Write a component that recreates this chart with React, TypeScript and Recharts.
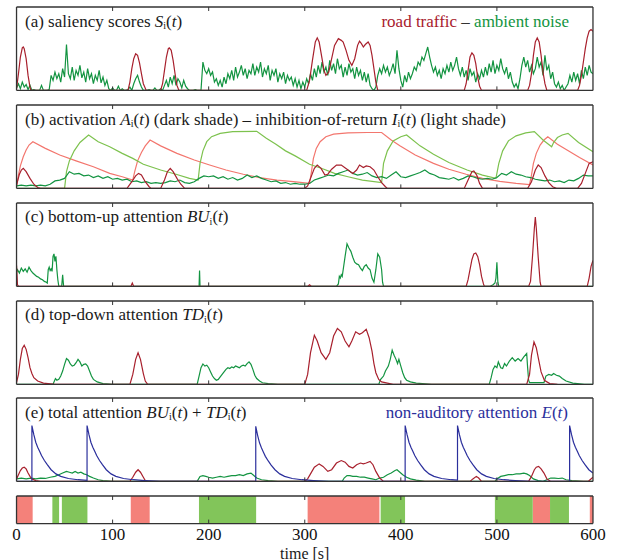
import React from "react";
import { LineChart, Line, XAxis, YAxis, ReferenceArea } from "recharts";

// values are fractions of a panel's height, time in seconds
const TIME_TICKS = [0, 100, 200, 300, 400, 500, 600];
const INNER_TICKS = [100, 200, 300, 400, 500];

// (a) saliency, road traffic  [t, v]
const roadSaliency = [
  [0, 0.02], [2, 0.2], [4, 0.4], [6, 0.51], [7, 0.52], [8, 0.5], [10, 0.38], [12, 0.18], [14, 0.04], [15, 0],
  [116, 0], [118, 0.1], [120, 0.26], [122, 0.38], [124, 0.44], [126, 0.42], [128, 0.33], [130, 0.2], [132, 0.08], [135, 0],
  [150, 0], [152, 0.08], [154, 0.24], [156, 0.4], [158, 0.5], [159, 0.51], [161, 0.48], [163, 0.36], [165, 0.2], [167, 0.06], [169, 0],
  [302, 0], [305, 0.12], [308, 0.36], [311, 0.58], [313, 0.63], [315, 0.58], [318, 0.38], [320, 0.24], [322, 0.18], [325, 0.22],
  [328, 0.38], [331, 0.54], [335, 0.62], [338, 0.6], [340, 0.58], [343, 0.48], [346, 0.36], [349, 0.3], [352, 0.38], [355, 0.54],
  [357, 0.59], [359, 0.56], [361, 0.52], [363, 0.55], [366, 0.58], [368, 0.54], [370, 0.42], [372, 0.26], [374, 0.1], [376, 0],
  [466, 0], [468, 0.08], [470, 0.24], [472, 0.4], [474, 0.45], [476, 0.42], [478, 0.32], [480, 0.16], [482, 0.05], [484, 0],
  [532, 0], [534, 0.06], [536, 0.2], [538, 0.42], [540, 0.58], [542, 0.63], [544, 0.58], [546, 0.42], [548, 0.22], [550, 0.08], [552, 0],
  [584, 0], [586, 0.06], [588, 0.18], [590, 0.34], [592, 0.5], [594, 0.63], [596, 0.71], [598, 0.73], [600, 0.71],
];

// (a) saliency, ambient noise, one value every 2 s (percent of panel height)
const NOISE_STEP = 2;
const noiseSaliency = [
  3, 8, 2, 10, 4, 7, 1, 6, 0, 1, 0, 0, 0, 6, 0, 0, 0, 1, 18, 12, 22, 14, 20, 10, 26,
  16, 55, 20, 14, 28, 12, 24, 18, 30, 15, 22, 10, 26, 14, 20, 8, 18, 12, 24, 9, 16, 6, 12, 2, 0,
  3, 0, 0, 5, 0, 2, 0, 0, 1, 4, 0, 8, 14, 18, 10, 4, 0, 0, 0, 1, 0, 0, 3, 0, 0,
  2, 0, 6, 12, 4, 16, 8, 18, 6, 14, 10, 3, 12, 5, 2, 0, 0, 0, 1, 0, 0, 0, 34, 24, 20,
  26, 18, 22, 10, 14, 6, 12, 4, 16, 8, 20, 14, 24, 12, 28, 16, 22, 30, 18, 26, 14, 24, 20, 32, 18,
  28, 22, 34, 16, 26, 20, 30, 12, 24, 18, 26, 10, 20, 14, 22, 8, 18, 12, 16, 6, 14, 4, 12, 2, 10,
  4, 14, 8, 20, 12, 26, 16, 30, 20, 34, 22, 28, 18, 36, 24, 32, 20, 38, 26, 30, 16, 28, 18, 32, 22,
  26, 14, 28, 18, 24, 12, 22, 10, 20, 6, 2, 0, 4, 18, 26, 20, 30, 22, 28, 18, 24, 32, 20, 48, 26,
  12, 4, 18, 10, 22, 14, 20, 28, 24, 34, 30, 40, 36, 44, 52, 40, 30, 22, 28, 18, 24, 14, 26, 20, 30,
  22, 34, 24, 30, 40, 26, 18, 28, 16, 24, 12, 26, 18, 22, 10, 20, 14, 24, 16, 28, 18, 32, 22, 36, 20,
  30, 24, 38, 26, 20, 28, 14, 22, 10, 4, 8, 2, 14, 30, 40, 28, 36, 22, 30, 20, 26, 40, 28, 34, 18,
  42, 24, 30, 14, 22, 8, 4, 10, 2, 6, 0, 4, 8, 18, 10, 22, 12, 20, 8, 24, 14, 28, 18, 30, 22, 20,
];

// (b) inhibition-of-return (light shades)
const roadInhibition = [
  [0, 0.02], [2, 0.16], [4, 0.27], [7, 0.38], [10, 0.46], [13, 0.52], [17, 0.56], [30, 0.48], [45, 0.4], [62, 0.33],
  [80, 0.26], [97, 0.18], [110, 0.14], [121, 0.1],
  [123, 0.2], [126, 0.33], [130, 0.43], [134, 0.51], [139, 0.58], [150, 0.51], [167, 0.42], [185, 0.34], [201, 0.28],
  [218, 0.22], [236, 0.17], [253, 0.13], [271, 0.1], [288, 0.08], [305, 0.06],
  [307, 0.2], [309, 0.36], [312, 0.48], [316, 0.56], [322, 0.62], [330, 0.65], [345, 0.665], [365, 0.67], [380, 0.67],
  [390, 0.58], [399, 0.51], [415, 0.4], [434, 0.3], [450, 0.23], [468, 0.17], [485, 0.12], [503, 0.085], [520, 0.06], [534, 0.045],
  [536, 0.16], [538, 0.3], [541, 0.42], [545, 0.52], [549, 0.58], [553, 0.62], [563, 0.53], [573, 0.46], [586, 0.37], [600, 0.28],
];
const noiseInhibition = [
  [0, 0], [50, 0], [52, 0.2], [55, 0.33], [60, 0.45], [66, 0.55], [75, 0.64], [85, 0.56], [97, 0.5], [110, 0.42],
  [121, 0.36], [132, 0.29], [150, 0.22], [166, 0.17], [180, 0.12], [189, 0.1],
  [191, 0.3], [194, 0.45], [198, 0.56], [203, 0.62], [212, 0.66], [225, 0.68], [250, 0.685], [260, 0.6], [270, 0.53],
  [280, 0.45], [290, 0.39], [305, 0.29], [320, 0.23], [331, 0.18], [345, 0.14], [360, 0.1], [380, 0.07],
  [382, 0.3], [386, 0.45], [392, 0.57], [400, 0.62], [406, 0.64], [420, 0.51], [434, 0.41], [450, 0.31], [469, 0.22],
  [485, 0.16], [499, 0.12],
  [502, 0.3], [506, 0.45], [512, 0.57], [520, 0.63], [530, 0.665], [539, 0.68], [548, 0.58], [557, 0.5], [559, 0.55],
  [563, 0.61], [568, 0.64], [574, 0.66], [585, 0.55], [600, 0.44],
];

// (b) activation (dark shades)
const roadActivation = [
  [0, 0.04], [3, 0.17], [5, 0.22], [7, 0.24], [10, 0.2], [14, 0.12], [18, 0.05], [22, 0.01], [25, 0],
  [115, 0], [120, 0.08], [124, 0.15], [127, 0.18], [130, 0.16], [134, 0.08], [138, 0.02], [140, 0],
  [150, 0], [154, 0.1], [157, 0.2], [160, 0.24], [163, 0.2], [167, 0.12], [171, 0.05], [175, 0],
  [300, 0], [303, 0.03], [307, 0.15], [310, 0.24], [313, 0.28], [317, 0.24], [321, 0.16], [324, 0.17], [328, 0.23], [333, 0.28],
  [338, 0.28], [344, 0.23], [350, 0.18], [354, 0.22], [357, 0.28], [361, 0.25], [364, 0.27], [368, 0.26], [372, 0.22],
  [376, 0.14], [380, 0.07], [384, 0.02], [386, 0],
  [466, 0], [470, 0.1], [474, 0.2], [476, 0.21], [479, 0.16], [482, 0.06], [485, 0],
  [532, 0], [536, 0.08], [540, 0.22], [543, 0.28], [546, 0.25], [550, 0.15], [554, 0.07], [558, 0.02], [562, 0],
  [584, 0], [588, 0.06], [592, 0.18], [596, 0.3], [600, 0.32],
];
// one value every 5 s (percent)
const ACT_STEP = 5;
const noiseActivation = [
  3, 4, 3, 4, 3, 4, 3, 5, 9, 10,
  12, 20, 17, 18, 15, 16, 13, 15, 12, 14,
  11, 12, 10, 11, 8, 9, 7, 8, 6, 7,
  6, 7, 9, 8, 10, 7, 6, 8, 12, 15,
  14, 15, 12, 14, 11, 13, 10, 12, 16, 13,
  15, 12, 10, 8, 9, 6, 7, 5, 6, 5,
  5,
  6, 10, 12, 14, 16, 15, 18, 20, 22, 18,
  16, 17, 19, 15, 13, 14, 12, 16, 20, 14,
  13, 15, 17, 19, 22, 18, 16, 13, 12, 11,
  13, 10, 12, 15, 14, 12, 11, 12, 11, 13,
  18, 16, 20, 17, 16, 14, 13, 11, 10, 9,
  10, 8, 9, 7, 10, 9, 12, 16, 15, 15,
];

// (c) bottom-up attention
const roadBottomUp = [
  [0, 0.25], [1, 0.02], [2, 0], [119, 0], [120.5, 0.04], [122, 0], [303, 0], [305, 0.02], [307, 0],
  [468, 0], [470, 0.08], [472, 0.2], [474, 0.32], [476, 0.39], [478, 0.4], [480, 0.36], [482, 0.26], [484, 0.12], [486, 0.03], [487, 0],
  [533, 0], [535, 0.06], [537, 0.35], [539, 0.7], [540, 0.83], [541, 0.7], [543, 0.35], [545, 0.05], [546, 0],
  [594, 0], [596, 0.1], [598, 0.24], [600, 0.31],
];
const noiseBottomUp = [
  [0, 0.17], [1, 0.2], [3, 0.16], [5, 0.22], [7, 0.18], [9, 0.21], [11, 0.17], [13, 0.23], [15, 0.19], [17, 0.16],
  [19, 0.14], [21, 0.12], [23, 0.11], [25, 0.09], [27, 0.08], [29, 0.06], [31, 0.05], [32, 0.04], [33, 0.2], [34, 0.23],
  [35, 0.19], [36, 0.21], [37, 0.18], [38, 0.36], [39, 0.39], [40, 0.3], [41, 0.36], [42, 0.2], [43, 0.08], [44, 0],
  [47, 0], [48, 0.14], [49, 0],
  [190, 0], [190.5, 0.19], [191, 0],
  [333, 0], [335, 0.03], [336, 0.12], [337, 0.1], [338, 0.14], [339, 0.12], [340, 0.2], [342, 0.36], [344, 0.51], [346, 0.46],
  [348, 0.42], [350, 0.35], [352, 0.29], [354, 0.27], [356, 0.26], [358, 0.22], [360, 0.19], [362, 0.24], [364, 0.26],
  [366, 0.22], [368, 0.2], [370, 0.1], [372, 0.05], [374, 0.2], [376, 0.39], [378, 0.35], [380, 0.2], [381, 0.05], [382, 0],
  [493, 0], [496, 0.02], [498, 0.04], [499, 0.1], [500, 0.29], [501, 0.05], [502, 0], [600, 0],
];

// (d) top-down attention
const roadTopDown = [
  [0, 0.02], [2, 0.12], [4, 0.3], [6, 0.43], [8, 0.47], [10, 0.42], [12, 0.32], [14, 0.2], [16, 0.13], [18, 0.08],
  [22, 0.04], [28, 0.015], [40, 0],
  [118, 0], [121, 0.12], [124, 0.3], [126.5, 0.38], [129, 0.3], [132, 0.13], [134, 0.04], [136.5, 0],
  [300, 0], [303, 0.12], [306, 0.38], [310, 0.59], [313, 0.52], [317, 0.38], [322, 0.3], [326, 0.38], [330, 0.58], [334, 0.67],
  [338, 0.63], [342, 0.52], [346, 0.45], [349, 0.52], [353, 0.63], [357, 0.6], [360, 0.62], [364, 0.66], [367, 0.56],
  [370, 0.4], [372, 0.25], [374, 0.14], [377, 0.06], [380, 0.03], [392, 0],
  [531, 0], [534, 0.12], [536, 0.35], [538.6, 0.51], [541, 0.44], [543.4, 0.3], [546, 0.15], [549.4, 0.05], [555, 0.01], [563, 0],
];
const noiseTopDown = [
  [0, 0], [38, 0], [39, 0.03], [40.5, 0.07], [42, 0.05], [44, 0.06], [46, 0.1], [48, 0.16], [50, 0.24], [52, 0.31],
  [54, 0.29], [56, 0.245], [58, 0.22], [60, 0.23], [62, 0.26], [64, 0.3], [66, 0.27], [68, 0.22], [70, 0.24], [72, 0.245],
  [74, 0.22], [76, 0.16], [78, 0.1], [80, 0.06], [84, 0.03], [90, 0.01], [100, 0],
  [188, 0], [190, 0.1], [192, 0.2], [194, 0.245], [196, 0.22], [198, 0.23], [200, 0.2], [202, 0.15], [204, 0.1], [206, 0.07],
  [208, 0.05], [210, 0.06], [212, 0.09], [214, 0.12], [216, 0.15], [218, 0.18], [220, 0.2], [222, 0.19], [224, 0.21],
  [226, 0.2], [228, 0.22], [230, 0.21], [232, 0.2], [234, 0.22], [236, 0.23], [238, 0.22], [240, 0.25], [242, 0.27],
  [244, 0.24], [246, 0.18], [248, 0.11], [250, 0.07], [253, 0.04], [256, 0.02], [262, 0.01], [272, 0],
  [377, 0], [379, 0.06], [382, 0.1], [384, 0.16], [387, 0.22], [389, 0.3], [391, 0.41], [393, 0.35], [395, 0.3], [396.6, 0.25],
  [398, 0.3], [400, 0.22], [402, 0.14], [404, 0.08], [406, 0.05], [410, 0.03], [416, 0.015], [432, 0],
  [492, 0], [494, 0.08], [496, 0.18], [498, 0.22], [500, 0.2], [501.5, 0.27], [504, 0.2], [506, 0.19], [508, 0.25],
  [510, 0.22], [513, 0.28], [516, 0.32], [519, 0.28], [522, 0.31], [525, 0.28], [528, 0.33], [531, 0.37], [532, 0.2],
  [533, 0.05], [534, 0.02], [549, 0.02], [551, 0.1], [554, 0.12], [557, 0.11], [559, 0.13], [562, 0.11], [565, 0.1],
  [568, 0.07], [572, 0.04], [579, 0.015], [591, 0], [600, 0],
];

// (e) total attention and non-auditory attention
const roadTotal = [
  [0, 0.03], [2, 0.08], [4, 0.13], [6, 0.16], [8, 0.17], [10, 0.15], [12, 0.1], [14, 0.06], [16, 0.03], [20, 0.01], [25, 0],
  [118, 0], [121, 0.05], [124, 0.11], [126.5, 0.14], [129, 0.11], [132, 0.05], [134, 0.01], [136.5, 0],
  [300, 0], [303, 0.03], [306, 0.09], [310, 0.17], [315, 0.21], [319, 0.18], [324, 0.12], [328, 0.14], [333, 0.22],
  [338, 0.25], [342, 0.23], [346, 0.18], [350, 0.16], [354, 0.2], [358, 0.22], [361, 0.21], [364, 0.22], [368, 0.24],
  [371, 0.2], [374, 0.12], [378, 0.04], [382, 0],
  [472, 0], [475, 0.03], [478.6, 0.06], [481, 0.04], [484, 0],
  [533, 0], [536, 0.06], [539, 0.14], [541, 0.17], [543.4, 0.18], [546, 0.15], [549, 0.1], [552, 0.03], [556, 0],
  [595, 0], [597, 0.02], [600, 0.05],
];
const noiseTotal = [
  [0, 0.03], [5, 0.04], [10, 0.03], [15, 0.04], [20, 0.03], [25, 0.04], [30, 0.035], [35, 0.05], [40, 0.06], [44, 0.08],
  [48, 0.1], [52, 0.12], [55, 0.11], [58, 0.1], [61, 0.12], [64, 0.1], [67, 0.11], [70, 0.09], [73, 0.08], [76, 0.06],
  [80, 0.04], [85, 0.02], [90, 0.01], [100, 0],
  [188, 0], [191, 0.06], [194, 0.07], [197, 0.06], [200, 0.05], [204, 0.04], [208, 0.05], [212, 0.06], [216, 0.05],
  [220, 0.06], [224, 0.07], [228, 0.07], [232, 0.08], [236, 0.07], [240, 0.09], [244, 0.1], [247, 0.07], [250, 0.04],
  [255, 0.02], [262, 0.01], [272, 0],
  [339, 0], [341, 0.04], [344, 0.07], [347, 0.07], [350, 0.06], [354, 0.06], [358, 0.05], [362, 0.05], [366, 0.04],
  [370, 0.03], [374, 0.02], [378, 0.04], [382, 0.05], [386, 0.08], [390, 0.1], [394, 0.13], [396, 0.14], [399, 0.11],
  [402, 0.08], [406, 0.05], [410, 0.03], [416, 0.015], [425, 0],
  [498, 0], [500, 0.03], [504, 0.06], [508, 0.07], [512, 0.08], [516, 0.08], [520, 0.09], [524, 0.09], [528, 0.1],
  [531, 0.09], [534, 0.07], [538, 0.03], [543, 0.01], [548, 0], [552, 0.02], [556, 0.04], [560, 0.04], [564, 0.035],
  [568, 0.04], [572, 0.02], [578, 0.01], [590, 0], [600, 0],
];
const nonAuditory = [
  [0, 0], [16, 0], [16, 0.67], [18, 0.56], [20, 0.47], [22, 0.41], [24, 0.36], [26, 0.31], [29, 0.25], [32, 0.2],
  [36, 0.14], [41, 0.09], [46, 0.06], [54, 0.035], [64, 0.02], [73.4, 0.012],
  [73.4, 0.67], [75.4, 0.56], [77.4, 0.47], [79.4, 0.41], [81.4, 0.36], [83.4, 0.31], [86.4, 0.25], [89.4, 0.2],
  [93.4, 0.14], [98.4, 0.09], [103.4, 0.06], [111.4, 0.035], [121.4, 0.02], [133.4, 0.01], [150, 0],
  [249, 0], [249, 0.66], [251, 0.55], [253, 0.46], [255, 0.4], [257, 0.35], [259, 0.3], [262, 0.245], [265, 0.195],
  [269, 0.14], [274, 0.09], [279, 0.06], [287, 0.035], [297, 0.02], [309, 0.01], [325, 0],
  [404.5, 0], [404.5, 0.67], [406.5, 0.56], [408.5, 0.47], [410.5, 0.41], [412.5, 0.36], [414.5, 0.31], [417.5, 0.25],
  [420.5, 0.2], [424.5, 0.14], [429.5, 0.09], [434.5, 0.06], [442.5, 0.035], [452.5, 0.02], [459, 0.015],
  [459, 0.67], [461, 0.56], [463, 0.47], [465, 0.41], [467, 0.36], [469, 0.31], [472, 0.25], [475, 0.2], [479, 0.14],
  [484, 0.09], [489, 0.06], [497, 0.035], [507, 0.02], [519, 0.01], [535, 0],
  [575.7, 0], [575.7, 0.67], [577.7, 0.56], [579.7, 0.47], [581.7, 0.41], [583.7, 0.36], [585.7, 0.31], [588.7, 0.25],
  [591.7, 0.2], [595.7, 0.14], [600, 0.1],
];

// attended source over time [start, end]
const roadSegments = [[0, 16.8], [118.9, 138.6], [303, 377.7], [537.3, 555.3], [596.7, 600]];
const noiseSegments = [[37.3, 44.3], [47.2, 73.8], [189.9, 249.4], [379, 404.4], [497.9, 537.3], [555.3, 575]];

const DARK_RED = "#a8202d";
const GREEN = "#139441";
const LIGHT_RED = "#f3766e";
const LIGHT_GREEN = "#7dc24e";
const BLUE = "#2b2f9c";
const BAR_RED = "#f4817a";
const BAR_GREEN = "#82c55a";
const FRAME = "#333";
const FONT = "Liberation Serif, Times New Roman, DejaVu Serif, serif";

const W = 618;
const X_LEFT = 16.5;
const X_RIGHT = 593;
const PANEL_TOPS = [7.3, 105.1, 202.9, 300.7, 398.4];
const PANEL_H = 83.4;
const BAR_TOP = 495.7;
const BAR_H = 27.6;
const PAD = 3;

const pairs = (arr: number[][]) => arr.map(([t, v]) => ({ t, v }));
const stepped = (arr: number[], step: number) => arr.map((v, i) => ({ t: i * step, v: v / 100 }));

const tickDown = (p: any) => (
  <line x1={p.x} x2={p.x} y1={p.y} y2={p.y + 4} stroke={FRAME} strokeWidth={1} />
);
const tickUp = (p: any) => (
  <line x1={p.x} x2={p.x} y1={p.y} y2={p.y - 4} stroke={FRAME} strokeWidth={1} />
);
const tickUpLabel = (p: any) => (
  <g>
    {p.payload.value > 0 && p.payload.value < 600 && (
      <line x1={p.x} x2={p.x} y1={p.y} y2={p.y - 4} stroke={FRAME} strokeWidth={1} />
    )}
    <text x={p.x} y={p.y + 16.5} textAnchor="middle" fill="#111"
      style={{ fontFamily: FONT, fontSize: 17 }}>
      {p.payload.value}
    </text>
  </g>
);

const axisLine = { stroke: FRAME, strokeWidth: 1.3 };

// axes are 1px thick so they render; the margins subtract that pixel
function frameAxes(labelled: boolean) {
  return [
    <XAxis key="xb" xAxisId="b" dataKey="t" type="number" domain={[0, 600]} allowDataOverflow
      ticks={labelled ? TIME_TICKS : INNER_TICKS} interval={0} height={1}
      tickSize={0} tickMargin={0} tickLine={false} tick={labelled ? tickUpLabel : tickUp} axisLine={axisLine} />,
    <XAxis key="xt" xAxisId="t" orientation="top" dataKey="t" type="number" domain={[0, 600]} allowDataOverflow
      ticks={INNER_TICKS} interval={0} height={1} tickSize={0} tickMargin={0} tickLine={false}
      tick={tickDown} axisLine={axisLine} />,
    <YAxis key="yl" yAxisId="l" type="number" domain={[0, 1]} allowDataOverflow width={1}
      tick={false} tickLine={false} axisLine={axisLine} />,
    <YAxis key="yr" yAxisId="r" orientation="right" type="number" domain={[0, 1]} allowDataOverflow width={1}
      tick={false} tickLine={false} axisLine={axisLine} />,
  ];
}

const chartMargin = (bottom: number) => ({
  top: PAD - 1,
  right: W - X_RIGHT - 1,
  bottom: bottom - 1,
  left: X_LEFT - 1,
});

type Series = { data: { t: number; v: number }[]; color: string };

function Panel({ top, series }: { top: number; series: Series[] }) {
  return (
    <div style={{ position: "absolute", left: 0, top: top - PAD }}>
      <LineChart width={W} height={PANEL_H + 2 * PAD} margin={chartMargin(PAD)}>
        {series.map((s, i) => (
          <Line key={i} xAxisId="b" yAxisId="l" data={s.data} dataKey="v" type="linear"
            stroke={s.color} strokeWidth={1.2} dot={false} activeDot={false} isAnimationActive={false} />
        ))}
        {frameAxes(false)}
      </LineChart>
    </div>
  );
}

const sub = (s: string) => (
  <>
    <tspan fontSize={10} dy={2.5}>{s}</tspan>
    <tspan dy={-2.5}>(</tspan>
  </>
);

export default function App() {
  const titleY = (i: number) => PANEL_TOPS[i] + 19.5;
  const panels: Series[][] = [
    [
      { data: stepped(noiseSaliency, NOISE_STEP), color: GREEN },
      { data: pairs(roadSaliency), color: DARK_RED },
    ],
    [
      { data: pairs(roadInhibition), color: LIGHT_RED },
      { data: pairs(noiseInhibition), color: LIGHT_GREEN },
      { data: stepped(noiseActivation, ACT_STEP), color: GREEN },
      { data: pairs(roadActivation), color: DARK_RED },
    ],
    [
      { data: pairs(noiseBottomUp), color: GREEN },
      { data: pairs(roadBottomUp), color: DARK_RED },
    ],
    [
      { data: pairs(noiseTopDown), color: GREEN },
      { data: pairs(roadTopDown), color: DARK_RED },
    ],
    [
      { data: pairs(noiseTotal), color: GREEN },
      { data: pairs(roadTotal), color: DARK_RED },
      { data: pairs(nonAuditory), color: BLUE },
    ],
  ];

  return (
    <div style={{ position: "absolute", left: 0, top: 0, width: W, height: 560, background: "#fff" }}>
      {panels.map((s, i) => (
        <Panel key={i} top={PANEL_TOPS[i]} series={s} />
      ))}

      <div style={{ position: "absolute", left: 0, top: BAR_TOP - PAD }}>
        <LineChart width={W} height={BAR_H + PAD + 40} margin={chartMargin(40)}>
          {roadSegments.map(([a, b], i) => (
            <ReferenceArea key={"r" + i} xAxisId="b" yAxisId="l" x1={a} x2={b} fill={BAR_RED}
              fillOpacity={1} stroke="none" ifOverflow="hidden" />
          ))}
          {noiseSegments.map(([a, b], i) => (
            <ReferenceArea key={"g" + i} xAxisId="b" yAxisId="l" x1={a} x2={b} fill={BAR_GREEN}
              fillOpacity={1} stroke="none" ifOverflow="hidden" />
          ))}
          {frameAxes(true)}
        </LineChart>
      </div>

      <svg width={W} height={560} style={{ position: "absolute", left: 0, top: 0, pointerEvents: "none",
        fontFamily: FONT, fontSize: 17 }} fill="#1a1a1a">
        <text x={25} y={titleY(0)}>
          (a) saliency scores <tspan fontStyle="italic">S</tspan>{sub("i")}<tspan fontStyle="italic">t</tspan>)
        </text>
        <text x={569} y={titleY(0)} textAnchor="end">
          <tspan fill={DARK_RED}>road traffic</tspan>
          <tspan fill="#333"> – </tspan>
          <tspan fill={GREEN}>ambient noise</tspan>
        </text>
        <text x={25} y={titleY(1)}>
          (b) activation <tspan fontStyle="italic">A</tspan>{sub("i")}<tspan fontStyle="italic">t</tspan>) (dark
          shade) – inhibition-of-return <tspan fontStyle="italic">I</tspan>{sub("i")}
          <tspan fontStyle="italic">t</tspan>) (light shade)
        </text>
        <text x={25} y={titleY(2)}>
          (c) bottom-up attention <tspan fontStyle="italic">BU</tspan>{sub("i")}<tspan fontStyle="italic">t</tspan>)
        </text>
        <text x={25} y={titleY(3)}>
          (d) top-down attention <tspan fontStyle="italic">TD</tspan>{sub("i")}<tspan fontStyle="italic">t</tspan>)
        </text>
        <text x={25} y={titleY(4)}>
          (e) total attention <tspan fontStyle="italic">BU</tspan>{sub("i")}<tspan fontStyle="italic">t</tspan>) +{" "}
          <tspan fontStyle="italic">TD</tspan>{sub("i")}<tspan fontStyle="italic">t</tspan>)
        </text>
        <text x={568} y={titleY(4)} textAnchor="end" fill={BLUE}>
          non-auditory attention <tspan fontStyle="italic">E</tspan>(<tspan fontStyle="italic">t</tspan>)
        </text>
        <text x={(X_LEFT + X_RIGHT) / 2} y={558.5} textAnchor="middle" fontSize={16}>
          time [s]
        </text>
      </svg>
    </div>
  );
}
